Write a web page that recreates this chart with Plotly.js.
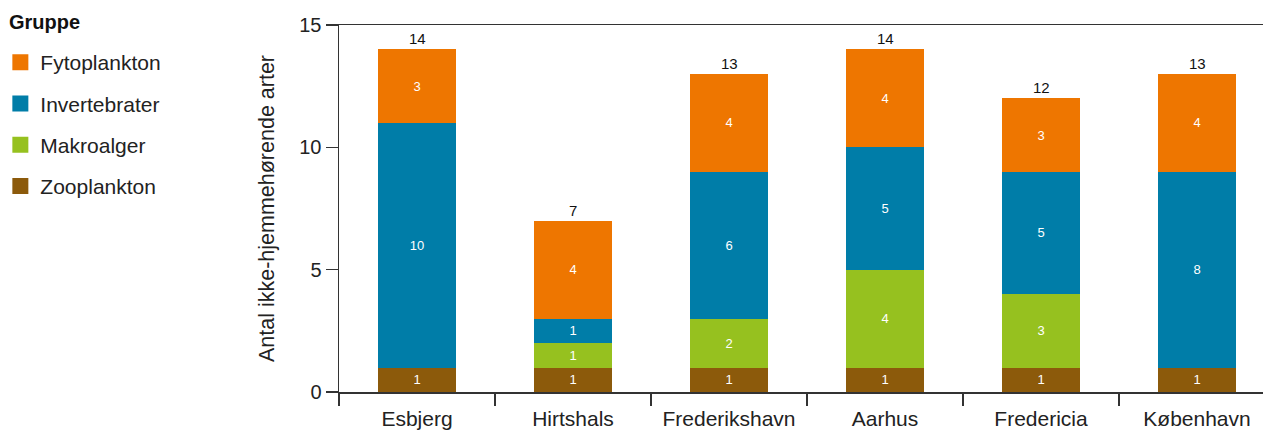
<!DOCTYPE html>
<html>
<head>
<meta charset="utf-8">
<script src="https://cdn.plot.ly/plotly-3.0.1.min.js"></script>
<style>
  html, body { margin: 0; padding: 0; background: #fff; overflow: hidden; }
  #chart { width: 1263px; height: 430px; }
</style>
</head>
<body>
<div id="chart"></div>
<script>
// Ports and species counts per group
const ports = ["Esbjerg", "Hirtshals", "Frederikshavn", "Aarhus", "Fredericia", "København"];
const zooplankton   = [1, 1, 1, 1, 1, 1];
const makroalger    = [0, 1, 2, 4, 3, 0];
const invertebrater = [10, 1, 6, 5, 5, 8];
const fytoplankton  = [3, 4, 4, 4, 3, 4];
const yTicks = [0, 5, 10, 15];

const groups = [
  { name: "Zooplankton",   values: zooplankton,   color: "#8C5A0B" },
  { name: "Makroalger",    values: makroalger,    color: "#96C11F" },
  { name: "Invertebrater", values: invertebrater, color: "#007DA8" },
  { name: "Fytoplankton",  values: fytoplankton,  color: "#EE7600" }
];

const FONT = "Liberation Sans, Arial, Helvetica, sans-serif";

// Stacked bars, bottom to top
const barTraces = groups.map(g => ({
  type: "bar",
  name: g.name,
  x: ports,
  y: g.values,
  width: 0.5,
  marker: { color: g.color, line: { width: 0 } },
  text: g.values.map(v => v ? String(v) : ""),
  textposition: "inside",
  insidetextanchor: "middle",
  textangle: 0,
  constraintext: "none",
  textfont: { family: FONT, size: 13, color: "#ffffff" },
  hoverinfo: "x+y+name",
  showlegend: false
}));

// Legend entries (top to bottom: Fytoplankton first)
const legendTraces = groups.slice().reverse().map((g, i) => ({
  type: "scatter",
  mode: "markers",
  name: g.name,
  x: [null],
  y: [null],
  marker: { symbol: "square", size: 16, color: g.color },
  legendgroup: "g" + i,
  hoverinfo: "skip",
  showlegend: true
}));

// Totals above each stack
const totals = ports.map((p, i) => groups.reduce((s, g) => s + g.values[i], 0));
const totalAnnotations = ports.map((p, i) => ({
  x: p,
  y: totals[i],
  xref: "x",
  yref: "y",
  text: String(totals[i]),
  showarrow: false,
  yanchor: "bottom",
  yshift: 0,
  font: { family: FONT, size: 15, color: "#111" }
}));

// Legend heading
const legendHeading = {
  xref: "paper",
  yref: "paper",
  x: (7 - 339) / 924,
  y: 1 + (25 - 22) / 367,
  xanchor: "left",
  yanchor: "middle",
  text: "<b>Gruppe</b>",
  showarrow: false,
  font: { family: FONT, size: 20, color: "#111" }
};

const layout = {
  width: 1263,
  height: 430,
  margin: { l: 339, r: 0, t: 25, b: 38 },
  paper_bgcolor: "#ffffff",
  plot_bgcolor: "#ffffff",
  barmode: "stack",
  font: { family: FONT, color: "#222" },
  xaxis: {
    type: "category",
    range: [-0.5, 5.423],
    showline: true,
    mirror: true,
    linecolor: "#333",
    linewidth: 1.5,
    ticks: "outside",
    tickson: "boundaries",
    ticklen: 12,
    tickcolor: "#333",
    tickwidth: 1.5,
    ticklabelstandoff: 7,
    showgrid: false,
    zeroline: false,
    tickfont: { family: FONT, size: 21, color: "#222" },
    fixedrange: true
  },
  yaxis: {
    range: [0, 15],
    tickvals: yTicks,
    ticktext: yTicks.map(String),
    showline: true,
    linecolor: "#333",
    linewidth: 1.5,
    ticks: "outside",
    ticklen: 12,
    tickcolor: "#333",
    tickwidth: 1.5,
    showgrid: false,
    zeroline: false,
    tickfont: { family: FONT, size: 20, color: "#222" },
    title: {
      text: "Antal ikke-hjemmehørende arter",
      font: { family: FONT, size: 21.5, color: "#222" },
      standoff: 18
    },
    automargin: false,
    fixedrange: true
  },
  legend: {
    x: -0.3665,
    xanchor: "left",
    y: 1 + (25 - 42) / 367,
    yanchor: "top",
    traceorder: "grouped",
    tracegroupgap: 11,
    bgcolor: "rgba(0,0,0,0)",
    font: { family: FONT, size: 21, color: "#222" },
    itemclick: false,
    itemdoubleclick: false
  },
  annotations: totalAnnotations.concat([legendHeading]),
  showlegend: true
};

Plotly.newPlot("chart", barTraces.concat(legendTraces), layout, { displayModeBar: false, staticPlot: true });
</script>
</body>
</html>
